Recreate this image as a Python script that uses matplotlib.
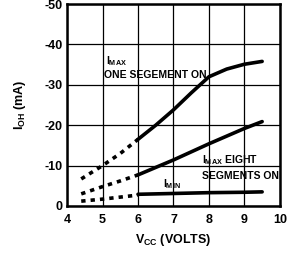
import matplotlib
matplotlib.use("Agg")
import matplotlib.pyplot as plt

# I_MAX, one segment on
one_dot_v = [4.4, 5.0, 5.5, 6.0]
one_dot_i = [-6.7, -10.0, -13.0, -16.5]
one_v = [6.0, 6.5, 7.0, 7.5, 8.0, 8.5, 9.0, 9.5]
one_i = [-16.5, -20.0, -23.8, -28.0, -32.0, -33.9, -35.1, -35.8]

# I_MAX, eight segments on
eight_dot_v = [4.4, 5.0, 5.5, 6.0]
eight_dot_i = [-3.0, -4.8, -6.2, -7.7]
eight_v = [6.0, 7.0, 8.0, 9.0, 9.5]
eight_i = [-7.7, -11.4, -15.4, -19.2, -20.9]

# I_MIN
min_dot_v = [4.4, 5.0, 5.5, 6.0]
min_dot_i = [-1.2, -1.7, -2.2, -2.7]
min_v = [6.0, 7.0, 8.0, 9.0, 9.5]
min_i = [-2.9, -3.1, -3.3, -3.4, -3.5]

xticks = [4, 5, 6, 7, 8, 9, 10]
yticks = [0, -10, -20, -30, -40, -50]

plt.rcParams['font.family'] = ['Liberation Sans Narrow', 'Liberation Sans', 'DejaVu Sans']
plt.rcParams['font.weight'] = 'bold'

fig = plt.figure(figsize=(2.94, 2.54), dpi=100)
ax = fig.add_axes([0.228, 0.189, 0.724, 0.795])

dots = (0, (1.2, 1.4))
ax.plot(one_dot_v, one_dot_i, color='black', lw=2.6, ls=dots)
ax.plot(one_v, one_i, color='black', lw=2.6, solid_capstyle='round')
ax.plot(eight_dot_v, eight_dot_i, color='black', lw=2.6, ls=dots)
ax.plot(eight_v, eight_i, color='black', lw=2.6, solid_capstyle='round')
ax.plot(min_dot_v, min_dot_i, color='black', lw=2.6, ls=dots)
ax.plot(min_v, min_i, color='black', lw=2.6, solid_capstyle='round')

ax.set_xlim(4, 10)
ax.set_ylim(0, -50)
ax.set_xticks(xticks)
ax.set_yticks(yticks)
ax.set_xticklabels([str(t) for t in xticks], fontsize=9, fontweight='bold')
ax.set_yticklabels([str(t) for t in yticks], fontsize=9, fontweight='bold')
ax.grid(True, color='black', lw=0.9)
ax.tick_params(axis='x', length=0, pad=6)
ax.tick_params(axis='y', length=0, pad=3)
for s in ax.spines.values():
    s.set_linewidth(1.8)

ax.text(5.1, -35.2, r'I$_{\mathregular{MAX}}$', fontsize=7.5, fontweight='bold')
ax.text(5.05, -31.8, 'ONE SEGEMENT ON', fontsize=7.5, fontweight='bold')
ax.text(7.8, -10.6, r'I$_{\mathregular{MAX}}$ EIGHT', fontsize=7.5, fontweight='bold')
ax.text(7.8, -6.6, 'SEGMENTS ON', fontsize=7.5, fontweight='bold')
ax.text(6.7, -4.6, r'I$_{\mathregular{MIN}}$', fontsize=7.5, fontweight='bold')

ax.set_xlabel(r'V$_{\mathregular{CC}}$ (VOLTS)', fontsize=9, fontweight='bold', labelpad=4)
ax.set_ylabel(r'I$_{\mathregular{OH}}$ (mA)', fontsize=9, fontweight='bold', labelpad=12)

fig.savefig('out.png', dpi=100)
